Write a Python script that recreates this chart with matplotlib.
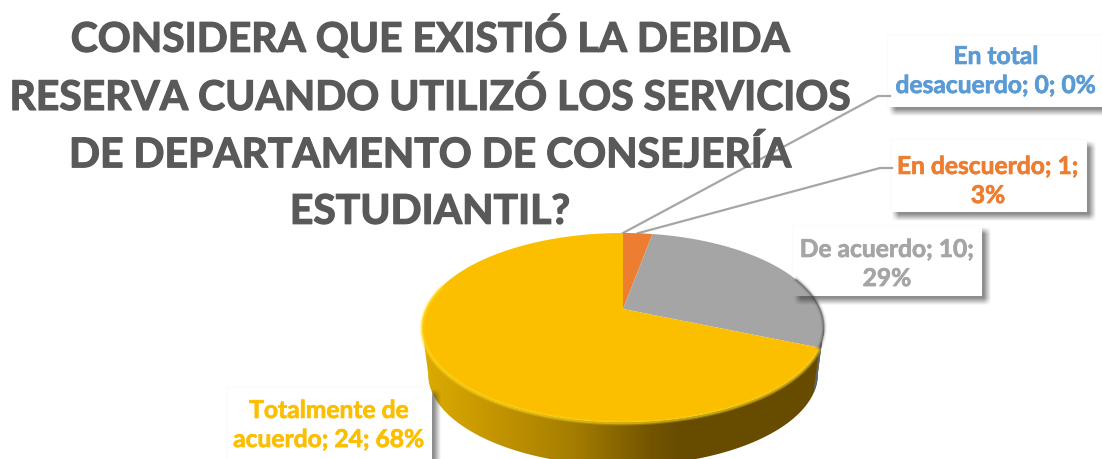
import numpy as np
import matplotlib
matplotlib.use("Agg")
import matplotlib.pyplot as plt
import matplotlib.patheffects as pe
from matplotlib.colors import to_rgb
from matplotlib.patches import Rectangle

plt.rcParams['font.family'] = ['Lato', 'DejaVu Sans']

categorias = ["En total desacuerdo", "En descuerdo", "De acuerdo", "Totalmente de acuerdo"]
valores = [0, 1, 10, 24]
porcentajes = [0, 3, 29, 68]
colores = ["#5B9BD5", "#ED7D31", "#A5A5A5", "#FCBF00"]
titulo = "CONSIDERA QUE EXISTIÓ LA DEBIDA\nRESERVA CUANDO UTILIZÓ LOS SERVICIOS\nDE DEPARTAMENTO DE CONSEJERÍA\nESTUDIANTIL?"

# cajas de etiquetas: x0, y0, x1, y1 en pixeles
cajas = [(887, 35, 1102, 107), (890, 139, 1087, 212), (792, 225, 982, 296), (226, 387, 432, 470)]
centros = [(996, 71), (988, 181), (887, 264), (329, 425)]
textos = ["En total\ndesacuerdo; 0; 0%", "En descuerdo; 1;\n3%", "De acuerdo; 10;\n29%", "Totalmente de\nacuerdo; 24; 68%"]

# perspectiva del pastel
CX, CY = 623, 309
R, S, K = 197, 90.9, 0.196
PROF = 47
ESC = 0.97


def borde(t, abajo=False):
    t = np.radians(t)
    d = 1 + K * np.cos(t)
    x = R * np.sin(t) / d
    y = -S * np.cos(t) / d
    if abajo:
        return CX + ESC * x, CY + PROF + ESC * y
    return CX + x, CY + y


def sombra(ax, caja, off=5, blur=7, fuerza=0.55):
    x0, y0, x1, y1 = caja
    xs = np.arange(x0 - 10, x1 + 20)
    ys = np.arange(y0 - 10, y1 + 20)
    rx = np.clip((xs - x0 - off + blur / 2) / blur, 0, 1) * np.clip((x1 + off + blur / 2 - xs) / blur, 0, 1)
    ry = np.clip((ys - y0 - off + blur / 2) / blur, 0, 1) * np.clip((y1 + off + blur / 2 - ys) / blur, 0, 1)
    a = np.outer(ry, rx) * fuerza
    a[np.ix_((ys >= y0) & (ys < y1), (xs >= x0) & (xs < x1))] = 0
    img = np.zeros(a.shape + (4,))
    img[..., :3] = 0.2
    img[..., 3] = a
    ax.imshow(img, extent=(xs[0], xs[-1] + 1, ys[-1] + 1, ys[0]), zorder=5, aspect='auto', interpolation='bilinear')


fig = plt.figure(figsize=(11.02, 4.59), dpi=100)
ax = fig.add_axes([0, 0, 1, 1])

# cajas debajo del pastel
for c in cajas:
    ax.add_patch(Rectangle((c[0], c[1]), c[2] - c[0], c[3] - c[1], fc='white', ec='#FBFBFB', lw=0.8, zorder=1))

# lineas guia
acum = np.cumsum([0] + valores) / sum(valores) * 360
ini1 = borde(acum[0])
ini2 = borde((acum[1] + acum[2]) / 2)
ax.plot([ini1[0], 878, 890], [ini1[1], 96, 96], color='#A6A6A6', lw=1.6, zorder=2)
ax.plot([ini2[0], 880, 892], [ini2[1], 168, 168], color='#A6A6A6', lw=1.6, zorder=2)

# lado del pastel con degradado
t = np.linspace(101, 259, 200)
x1, y1 = borde(t)
x2, y2 = borde(t[::-1], abajo=True)
lado = ax.fill(np.r_[x1, x2], np.r_[y1, y2], color='none', zorder=3)[0]
paradas_x = [424, 500, 570, 650, 680, 830]
paradas_c = ["#DCAB00", "#C29300", "#A67F00", "#735500", "#674C00", "#674C00"]
xx = np.arange(420, 830)
rgb = np.array([to_rgb(c) for c in paradas_c])
grad = np.stack([np.interp(xx, paradas_x, rgb[:, i]) for i in range(3)], axis=-1)[None, :, :]
im = ax.imshow(grad, extent=(420, 830, 480, 300), aspect='auto', zorder=3)
im.set_clip_path(lado)

# pedazo gris del lado
t = np.linspace(101, acum[3], 30)
x1, y1 = borde(t)
x2, y2 = borde(t[::-1], abajo=True)
ax.fill(np.r_[x1, x2], np.r_[y1, y2], color='#5F6468', lw=0, zorder=3.1)

# cara superior
for i in range(len(valores)):
    if valores[i] == 0:
        continue
    t = np.linspace(acum[i], acum[i + 1], 200)
    x, y = borde(t)
    ax.fill(np.r_[CX, x], np.r_[CY, y], color=colores[i], lw=0, zorder=4)

# brillo y sombra del borde
t = np.linspace(acum[3], 285, 200)
x, y = borde(t)
for w, al in [(3.5, 0.25), (1.8, 0.5)]:
    ax.plot(x, y + 1, color='#FFD81A', lw=w, alpha=al, zorder=4.1, solid_capstyle='round')
t = np.linspace(70, acum[3], 100)
x, y = borde(t)
for w, al in [(4, 0.1), (2, 0.2), (1, 0.3)]:
    ax.plot(x, y, color='#333333', lw=w, alpha=al, zorder=4.1)

for c in cajas:
    sombra(ax, c)

for p, txt, col in zip(centros, textos, colores):
    t_lab = ax.text(p[0], p[1], txt, color=col, fontsize=17.7, fontweight='bold', ha='center', va='center',
                    linespacing=1.32, zorder=6)
    t_lab.set_path_effects([pe.withStroke(linewidth=0.5, foreground=col)])

t_tit = ax.text(430, 123, titulo, color='#595959', fontsize=29.4, fontweight='bold', ha='center', va='center',
                linespacing=1.65, zorder=7)
t_tit.set_path_effects([pe.withStroke(linewidth=0.9, foreground='#595959')])

ax.set_xlim(0, 1102)
ax.set_ylim(459, 0)
ax.axis('off')
fig.savefig("out.png", dpi=100, facecolor='white')
